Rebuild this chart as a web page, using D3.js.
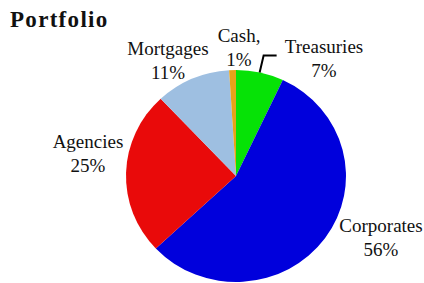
<!DOCTYPE html>
<html>
<head>
<meta charset="utf-8">
<script src="https://cdn.jsdelivr.net/npm/d3@7"></script>
<style>
  body { margin: 0; background: #fff; }
  text { font-family: "Liberation Serif", "Times New Roman", serif; fill: #111; }
</style>
</head>
<body>
<div id="chart"></div>
<script>
var categories = ["Treasuries", "Corporates", "Agencies", "Mortgages", "Cash"];
var values = [7, 56, 25, 11, 1];
var labelLines = [["Treasuries", "7%"], ["Corporates", "56%"], ["Agencies", "25%"], ["Mortgages", "11%"], ["Cash,", "1%"]];
var colors = ["#06e206", "#0000dc", "#e90a0a", "#9ebfe1", "#e6a21a"];

var width = 424, height = 283;
var cx = 236, cy = 176, ry = 106, rx = 110;

// label anchor spots (center x, first baseline)
var labelPos = [[324, 53], [381, 232], [88, 148], [168, 55], [239, 42]];

var svg = d3.select("#chart").append("svg")
    .attr("width", width)
    .attr("height", height);

svg.append("text")
    .attr("x", 10)
    .attr("y", 27)
    .style("font-size", "23px")
    .style("font-weight", "bold")
    .style("letter-spacing", "1.3px")
    .text("Portfolio");

var data = categories.map(function(c, i){ return {label: c, value: values[i], color: colors[i]}; });

var pie = d3.pie().sort(null).value(function(d){ return d.value; });
var arc = d3.arc().innerRadius(0).outerRadius(ry);

var g = svg.append("g")
    .attr("transform", "translate(" + cx + "," + cy + ") scale(" + (rx/ry) + ",1)");

g.selectAll("path")
    .data(pie(data))
    .enter()
    .append("path")
    .attr("d", arc)
    .attr("fill", function(d){ return d.data.color; });

// labels
var lab = svg.selectAll("g.lab")
    .data(data)
    .enter()
    .append("g")
    .attr("class", "lab");

lab.each(function(d, i){
  var sel = d3.select(this);
  labelLines[i].forEach(function(t, j){
    sel.append("text")
      .attr("x", labelPos[i][0])
      .attr("y", labelPos[i][1] + j*24)
      .attr("text-anchor", "middle")
      .style("font-size", "19px")
      .text(t);
  });
});

// leader line near the cash label
var a = 12.4 * Math.PI / 180;
var sx = cx + rx * Math.sin(a), sy = cy - ry * Math.cos(a);
svg.append("path")
    .attr("d", "M" + sx + "," + sy + " L" + (sx + 4) + "," + (sy - 17) + " H" + (sx + 17))
    .attr("fill", "none")
    .attr("stroke", "#000")
    .attr("stroke-width", 2);
</script>
</body>
</html>
